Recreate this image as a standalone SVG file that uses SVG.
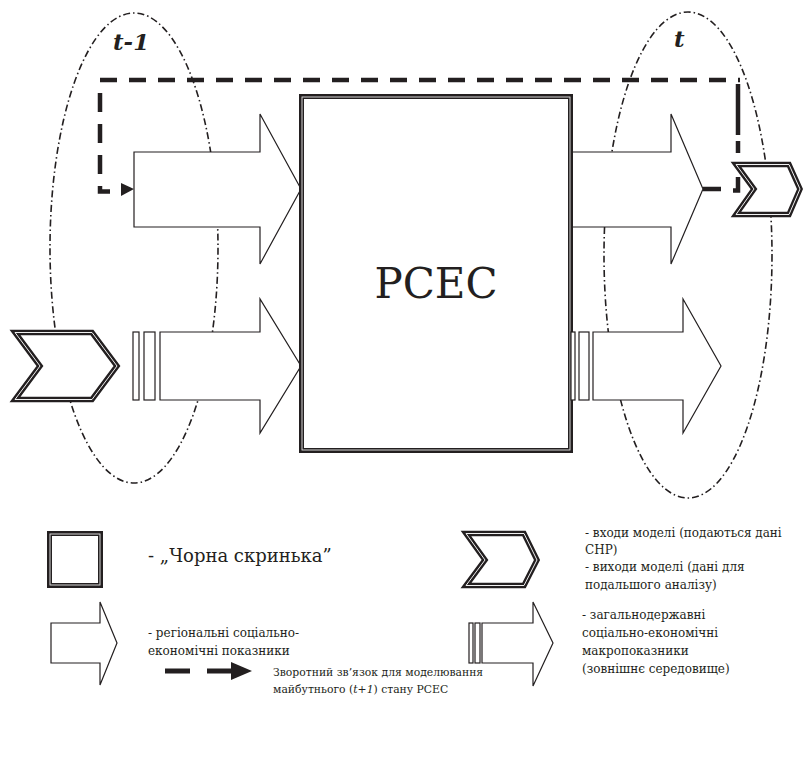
<svg xmlns="http://www.w3.org/2000/svg" width="803" height="760" viewBox="0 0 803 760">
<style>
.bg{fill:#fff}
.ell{fill:none;stroke:#231f20;stroke-width:1.6;stroke-dasharray:7 3 1.5 3}
.fb{fill:none;stroke:#231f20;stroke-width:4.5;stroke-dasharray:17 12}
.arr{fill:#fff;stroke:#231f20;stroke-width:1.2;stroke-linejoin:miter}
.dblo{fill:#fff;stroke:#231f20;stroke-width:5}
.dbli{fill:none;stroke:#e6e6e6;stroke-width:0.9}
.cho{fill:#fff;stroke:#231f20;stroke-width:5.5;stroke-linejoin:miter}
.chi{fill:none;stroke:#f0f0f0;stroke-width:1}
text{fill:#231f20;font-family:'DejaVu Serif','Liberation Serif','Times New Roman',serif}
.lbl{font-size:12px}
.tl{font-size:23px;font-weight:bold;font-style:italic}
</style>
<rect class="bg" x="0" y="0" width="803" height="760"/>

<g id="time-frames">
  <ellipse class="ell" cx="134" cy="248" rx="84" ry="235"/>
  <ellipse class="ell" cx="688" cy="255" rx="84" ry="243"/>
  <text class="tl" x="113" y="50">t-1</text>
  <text class="tl" x="674" y="47">t</text>
</g>

<g id="connectors">
  <path class="fb" d="M100,80 H740"/>
  <path class="fb" d="M100,93 V191.5 H110" style="stroke-dasharray:19 12"/>
  <path class="fb" d="M738,84 V135 M738,141 V153 M738,177 V190.5 H733 M721,189 H703" style="stroke-dasharray:none"/>
  <polygon points="121,183 134,189 121,196" fill="#231f20"/>
</g>

<g id="input-regional">
  <path class="arr" d="M134,152 H260 V114 L301,189 L260,264 V227 H134 Z"/>
</g>
<g id="input-macro">
  <rect class="arr" x="133" y="332" width="6" height="68"/>
  <rect class="arr" x="144" y="332" width="11" height="68"/>
  <path class="arr" d="M160,332 H260 V299 L301,366 L260,433 V400 H160 Z"/>
</g>
<g id="input-data">
  <polygon class="cho" points="15,332.5 92,332.5 117,366 92,399.5 15,399.5 40,366"/>
  <polygon class="chi" points="15,332.5 92,332.5 117,366 92,399.5 15,399.5 40,366"/>
</g>

<g id="black-box">
  <rect class="dblo" x="301.5" y="96.5" width="269" height="354"/>
  <rect class="dbli" x="302" y="97" width="268" height="353"/>
  <text x="436" y="298" font-size="42" text-anchor="middle">РСЕС</text>
</g>

<g id="output-regional">
  <path class="arr" d="M573,152 H671 V114 L703,189 L671,264 V227 H573"/>
</g>
<g id="output-macro">
  <rect class="arr" x="571" y="332" width="4" height="68"/>
  <rect class="arr" x="579" y="332" width="10" height="68"/>
  <path class="arr" d="M593,332 H683 V299 L721,366 L683,433 V400 H593 Z"/>
</g>
<g id="output-data">
  <polygon class="cho" points="736,164.5 789,164.5 800,189 789,214.5 736,214.5 754,189"/>
  <polygon class="chi" points="736,164.5 789,164.5 800,189 789,214.5 736,214.5 754,189"/>
</g>

<g id="legend-box">
  <rect class="dblo" x="49.5" y="533.5" width="51" height="52"/>
  <rect class="dbli" x="50" y="534" width="50" height="51"/>
  <text x="148" y="562" font-size="18">- „Чорна скринька”</text>
</g>
<g id="legend-regional">
  <path class="arr" d="M51,623 H100 V602 L117,643 L100,685 V663 H51 Z"/>
  <text class="lbl" x="148" y="637">- регіональні соціально-</text>
  <text class="lbl" x="148" y="655">економічні показники</text>
</g>
<g id="legend-io">
  <polygon class="cho" points="466,533.5 524,533.5 537,560 524,585.5 466,585.5 485,560"/>
  <polygon class="chi" points="466,533.5 524,533.5 537,560 524,585.5 466,585.5 485,560"/>
  <text class="lbl" x="585" y="537">- входи моделі (подаються дані</text>
  <text class="lbl" x="585" y="554">СНР)</text>
  <text class="lbl" x="585" y="571">- виходи моделі (дані для</text>
  <text class="lbl" x="585" y="589">подальшого аналізу)</text>
</g>
<g id="legend-macro">
  <rect class="arr" x="469" y="623" width="4" height="40"/>
  <rect class="arr" x="475" y="623" width="5" height="40"/>
  <path class="arr" d="M482,623 H533 V602 L553,643 L533,686 V663 H482 Z"/>
  <text class="lbl" x="582" y="619">- загальнодержавні</text>
  <text class="lbl" x="582" y="637">соціально-економічні</text>
  <text class="lbl" x="582" y="655">макропоказники</text>
  <text class="lbl" x="582" y="673">(зовнішнє середовище)</text>
</g>
<g id="legend-feedback">
  <path d="M165,671 H190 M207,671 H231" stroke="#231f20" stroke-width="5" fill="none"/>
  <polygon points="231,662 252,671 231,680" fill="#231f20"/>
  <text x="273" y="676" font-size="10.8">Зворотний зв’язок для моделювання</text>
  <text x="273" y="693" font-size="10.8">майбутнього (<tspan font-style="italic">t</tspan>+<tspan font-style="italic">1</tspan>) стану РСЕС</text>
</g>
</svg>
